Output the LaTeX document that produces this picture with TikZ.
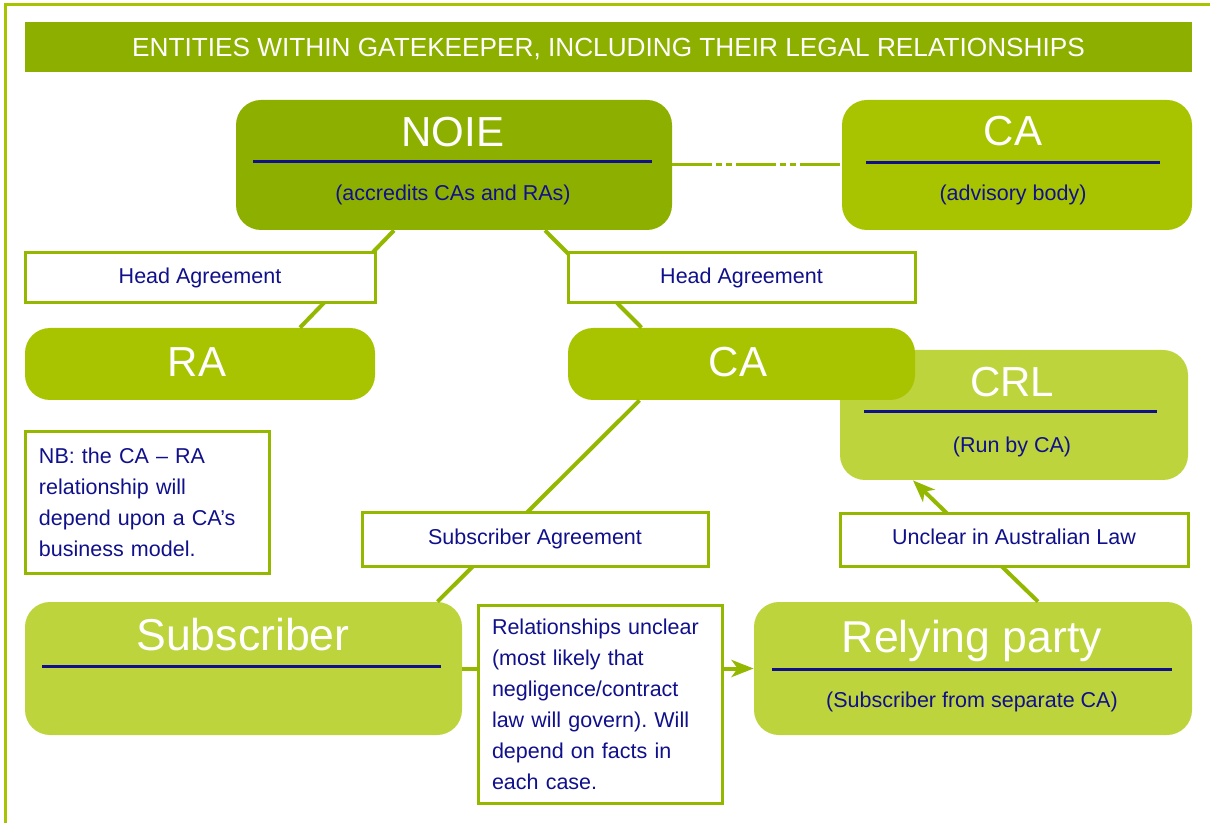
\documentclass[tikz,border=0pt]{standalone}
\usepackage{fontspec}
\setmainfont{Liberation Sans}
\usetikzlibrary{arrows.meta}
\frenchspacing

\definecolor{olivedeep}{RGB}{141,176,0}
\definecolor{olivemid}{RGB}{168,196,0}
\definecolor{olivepale}{RGB}{190,212,60}
\definecolor{linkgreen}{RGB}{148,184,0}
\definecolor{inkblue}{RGB}{16,16,140}

\tikzset{
  entity/.style={rounded corners=12.5pt, inner sep=0pt},
  deepfill/.style={entity, fill=olivedeep},
  midfill/.style={entity, fill=olivemid},
  palefill/.style={entity, fill=olivepale},
  bigname/.style={text=white, inner sep=0pt, font=\fontsize{21}{25}\selectfont},
  subname/.style={text=inkblue, inner sep=0pt, font=\fontsize{10.75}{15.5}\selectfont},
  bluerule/.style={draw=inkblue, line width=1.5pt},
  agreebox/.style={draw=linkgreen, line width=1.5pt, fill=white, inner sep=0pt,
    text=inkblue, font=\fontsize{10.75}{15.5}\selectfont, text height=7.7pt, text depth=2.3pt},
  notebox/.style={draw=linkgreen, line width=1.5pt, fill=white, inner xsep=7pt, inner ysep=0pt,
    align=left, text=inkblue, font=\fontsize{10.75}{15.5}\selectfont},
  linkline/.style={draw=linkgreen, line width=2pt},
  linkarrow/.style={linkline, -{Stealth[length=11pt, width=8.5pt, inset=3pt]}},
  advline/.style={draw=linkgreen, line width=1.5pt,
    dash pattern=on 20pt off 2pt on 3pt off 2pt on 3pt off 2pt}
}

\begin{document}
\begin{tikzpicture}[x=5pt, y=-5pt]
\useasboundingbox (0,0) rectangle (121,82.3);
\draw[olivemid, line width=1.5pt] (0.5,0.5) rectangle (130,90);

\node[deepfill, rounded corners=0pt, minimum width=583.5pt, minimum height=25pt, text=white,
  text depth=0pt, font=\fontsize{13.1}{15}\selectfont] (title) at (60.85,4.7)
  {ENTITIES WITHIN GATEKEEPER, INCLUDING THEIR LEGAL RELATIONSHIPS};

\node[deepfill, minimum width=218pt, minimum height=65pt] (noie) at (45.4,16.5) {};
\node[bigname, anchor=base] (noiet) at (45.3,14.7) {NOIE};
\draw[bluerule] (25.3,16.2) -- (65.2,16.2);
\node[subname, anchor=base] (noies) at (45.3,20.1) {(accredits CAs and RAs)};

\node[midfill, minimum width=175pt, minimum height=65pt] (caadv) at (101.7,16.5) {};
\node[bigname, anchor=base] (caadvt) at (101.3,14.6) {CA};
\draw[bluerule] (86.6,16.3) -- (116,16.3);
\node[subname, anchor=base] (caadvs) at (101.3,20.1) {(advisory body)};

\node[palefill, minimum width=174pt, minimum height=65pt] (crl) at (101.4,41.5) {};
\node[bigname, anchor=base] (crlt) at (101.2,39.7) {CRL};
\draw[bluerule] (86.4,41.2) -- (115.7,41.2);
\node[subname, anchor=base] (crls) at (101.2,45.2) {(Run by CA)};

\node[midfill, minimum width=175pt, minimum height=36pt] (ra) at (20,36.4) {};
\node[bigname, anchor=base] (rat) at (19.7,37.7) {RA};

\node[midfill, minimum width=173.5pt, minimum height=36pt] (ca) at (74.15,36.4) {};
\node[bigname, anchor=base] (cat) at (73.8,37.7) {CA};

\node[palefill, minimum width=218.5pt, minimum height=66.5pt] (sub) at (24.35,66.85) {};
\node[bigname, anchor=base, font=\fontsize{22.3}{26}\selectfont] (subt) at (24.3,65) {Subscriber};
\draw[bluerule] (4.2,66.6) -- (44.1,66.6);

\node[palefill, minimum width=219pt, minimum height=66.5pt] (rely) at (97.3,66.85) {};
\node[bigname, anchor=base, font=\fontsize{22.3}{26}\selectfont] (relyt) at (97.2,65.2) {Relying party};
\draw[bluerule] (77.2,66.9) -- (117.2,66.9);
\node[subname, anchor=base] (relys) at (97.2,70.7) {(Subscriber from separate CA)};

\draw[advline] (noie.east) -- (caadv.west);
\draw[linkline] ([xshift=-30pt]noie.south) -- ([xshift=50pt]ra.north);
\draw[linkline] ([xshift=45.5pt]noie.south) -- ([xshift=-50pt]ca.north);
\draw[linkline] ([xshift=-51pt]ca.south) -- ([xshift=97pt]sub.north);
\draw[linkarrow] ([xshift=32.5pt]rely.north) -- ([xshift=-50.5pt]crl.south);
\draw[linkarrow] (sub.east) -- (rely.west);

\node[agreebox, minimum width=175pt, minimum height=25pt] (hal) at (20,27.8) {Head Agreement};
\node[agreebox, minimum width=173.5pt, minimum height=25pt] (har) at (74.15,27.8) {Head Agreement};
\node[agreebox, minimum width=173pt, minimum height=27pt] (suba) at (53.5,53.9) {Subscriber Agreement};
\node[agreebox, minimum width=174pt, minimum height=26.5pt] (unclear) at (101.4,53.95) {Unclear in Australian Law};

\node[notebox, text width=108pt, minimum height=70.5pt] (nb) at (14.7,50.25)
  {NB: the CA -- RA\\relationship will\\depend upon a CA's\\business model.};
\node[notebox, text width=108pt, minimum height=99pt] (rel) at (60,70.4)
  {Relationships unclear\\(most likely that\\negligence/contract\\law will govern). Will\\depend on facts in\\each case.};
\end{tikzpicture}
\end{document}
